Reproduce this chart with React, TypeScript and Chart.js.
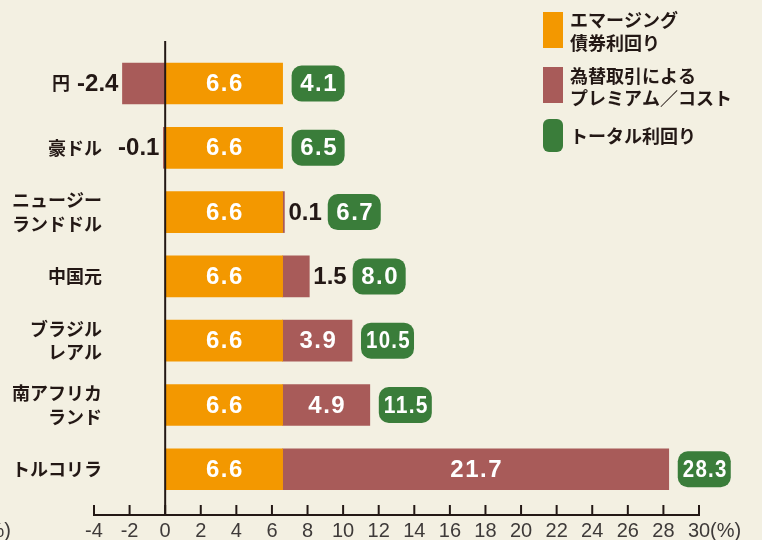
import React, { useEffect, useRef } from 'react';
import { Chart, registerables } from 'chart.js';

Chart.register(...registerables);

// ---- data ----
const categories: string[][] = [
  ['円'],
  ['豪ドル'],
  ['ニュージー', 'ランドドル'],
  ['中国元'],
  ['ブラジル', 'レアル'],
  ['南アフリカ', 'ランド'],
  ['トルコリラ'],
];
const emergingYield = [6.6, 6.6, 6.6, 6.6, 6.6, 6.6, 6.6];
const fxPremium = [-2.4, -0.1, 0.1, 1.5, 3.9, 4.9, 21.7];
const totalYield = [4.1, 6.5, 6.7, 8.0, 10.5, 11.5, 28.3];
const xTickValues = [-4, -2, 0, 2, 4, 6, 8, 10, 12, 14, 16, 18, 20, 22, 24, 26, 28, 30];
const legendLabels = [
  ['エマージング', '債券利回り'],
  ['為替取引による', 'プレミアム／コスト'],
  ['トータル利回り'],
];

// ---- styles ----
const BG = '#f3f0e2';
const ORANGE = '#f39800';
const MAROON = '#a85b59';
const GREEN = '#3a7d3a';
const DARK = '#231815';
const NUM_FONT = "bold 24px 'Liberation Sans', Arial, sans-serif";
const JP_FONT = "bold 18px 'Noto Sans CJK JP', sans-serif";
const LEG_FONT = "bold 18px 'Noto Sans CJK JP', sans-serif";
const TICK_FONT = "20px 'Liberation Sans', Arial, sans-serif";

const drawPlugin = {
  id: 'customDraw',
  beforeDraw(chart: any) {
    const ctx = chart.ctx;
    ctx.save();
    ctx.fillStyle = BG;
    ctx.fillRect(0, 0, chart.width, chart.height);
    ctx.restore();
  },
  afterDatasetsDraw(chart: any) {
    const ctx: CanvasRenderingContext2D = chart.ctx;
    const xs = chart.scales.x;
    const ys = chart.scales.y;
    const area = chart.chartArea;
    const axisY = area.bottom;
    ctx.save();

    // zero line
    const x0 = xs.getPixelForValue(0);
    ctx.strokeStyle = DARK;
    ctx.lineWidth = 2;
    ctx.beginPath();
    ctx.moveTo(x0, area.top);
    ctx.lineTo(x0, axisY);
    ctx.stroke();

    // x axis line + ticks (upward)
    ctx.beginPath();
    ctx.moveTo(xs.getPixelForValue(xTickValues[0]) - 1, axisY);
    ctx.lineTo(xs.getPixelForValue(xTickValues[xTickValues.length - 1]) + 1, axisY);
    ctx.stroke();
    xTickValues.forEach((v) => {
      const px = xs.getPixelForValue(v);
      ctx.beginPath();
      ctx.moveTo(px, axisY);
      ctx.lineTo(px, axisY - 10);
      ctx.stroke();
    });

    // tick labels
    ctx.font = TICK_FONT;
    ctx.fillStyle = '#3e3a39';
    ctx.textBaseline = 'middle';
    const tickLabelY = axisY + 16;
    xTickValues.forEach((v, idx) => {
      const px = xs.getPixelForValue(v);
      const t = String(v);
      ctx.textAlign = 'center';
      ctx.fillText(t, px, tickLabelY);
      if (idx === xTickValues.length - 1) {
        const w = ctx.measureText(t).width;
        ctx.textAlign = 'left';
        ctx.fillText('(%)', px + w / 2, tickLabelY);
      }
    });
    ctx.textAlign = 'right';
    ctx.fillText('(%)', 11, tickLabelY);

    // bar value labels, totals, category labels
    categories.forEach((cat, i) => {
      const cy = ys.getPixelForValue(i);
      ctx.textBaseline = 'middle';
      ctx.font = NUM_FONT;

      // emerging label
      const e = emergingYield[i];
      const ex0 = xs.getPixelForValue(0);
      const ex1 = xs.getPixelForValue(e);
      ctx.fillStyle = '#ffffff';
      ctx.textAlign = 'center';
      (ctx as any).letterSpacing = '1.5px';
      ctx.fillText(e.toFixed(1), (ex0 + ex1) / 2 + 1, cy + 1);

      // fx label
      const v = fxPremium[i];
      const start = v >= 0 ? e : 0;
      const end = start + v;
      const ps = xs.getPixelForValue(start);
      const pe = xs.getPixelForValue(end);
      const t = v.toFixed(1);
      const wIn = ctx.measureText(t).width;
      let labelLeft = Infinity;
      let labelRight = -Infinity;
      if (Math.abs(pe - ps) > wIn + 12) {
        ctx.fillStyle = '#ffffff';
        ctx.textAlign = 'center';
        ctx.fillText(t, (ps + pe) / 2 + 1, cy + 1);
      } else {
        (ctx as any).letterSpacing = '0px';
        const w = ctx.measureText(t).width;
        ctx.fillStyle = DARK;
        if (v < 0) {
          ctx.textAlign = 'right';
          ctx.fillText(t, pe - 4, cy + 1);
          labelLeft = pe - 4 - w;
        } else {
          ctx.textAlign = 'left';
          ctx.fillText(t, pe + 4, cy + 1);
          labelRight = pe + 4 + w;
        }
      }

      // total box
      const barEndPx = xs.getPixelForValue(e + Math.max(v, 0));
      const boxLeft = Math.max(barEndPx + 9, labelRight + 6);
      const boxW = 53;
      const boxH = 36;
      ctx.fillStyle = GREEN;
      ctx.beginPath();
      (ctx as any).roundRect(boxLeft, cy - boxH / 2, boxW, boxH, 10);
      ctx.fill();
      ctx.fillStyle = '#ffffff';
      ctx.textAlign = 'center';
      (ctx as any).letterSpacing = '1.5px';
      ctx.fillText(totalYield[i].toFixed(1), boxLeft + boxW / 2 + 1, cy + 1, 45);
      (ctx as any).letterSpacing = '0px';

      // category label
      ctx.font = JP_FONT;
      ctx.fillStyle = DARK;
      ctx.textAlign = 'right';
      const rx = Math.min(102, labelLeft - 7);
      const lh = 23.5;
      cat.forEach((line, k) => {
        const ly = cy + (k - (cat.length - 1) / 2) * lh;
        ctx.fillText(line, rx, ly);
      });
    });

    // legend
    const legColors = [ORANGE, MAROON, GREEN];
    const legTops = [12, 67, 119];
    const legHeights = [36, 36, 33];
    const legTextY = [[20.5, 43], [76, 98], [136]];
    legendLabels.forEach((lines, k) => {
      ctx.fillStyle = legColors[k];
      if (k === 2) {
        ctx.beginPath();
        (ctx as any).roundRect(543, legTops[k], 20, legHeights[k], 6);
        ctx.fill();
      } else {
        ctx.fillRect(543, legTops[k], 20, legHeights[k]);
      }
      ctx.font = LEG_FONT;
      ctx.fillStyle = DARK;
      ctx.textAlign = 'left';
      ctx.textBaseline = 'middle';
      lines.forEach((line, j) => {
        ctx.fillText(line, 570, legTextY[k][j]);
      });
    });

    ctx.restore();
  },
};

export default function App() {
  const ref = useRef<HTMLCanvasElement>(null);
  useEffect(() => {
    const canvas = ref.current!;
    const chart = new Chart(canvas, {
      type: 'bar',
      data: {
        datasets: [
          {
            label: 'エマージング債券利回り',
            data: emergingYield.map((v, i) => ({ x: v, y: i })),
            backgroundColor: ORANGE,
            borderWidth: 0,
            barThickness: 41,
          },
          {
            label: '為替取引によるプレミアム／コスト',
            data: fxPremium.map((v, i) => ({ x: v, y: i })),
            backgroundColor: MAROON,
            borderWidth: 0,
            barThickness: 41,
          },
        ],
      },
      options: {
        indexAxis: 'y',
        responsive: false,
        animation: false,
        layout: { padding: { left: 94, right: 63, top: 41, bottom: 25 } },
        scales: {
          x: { type: 'linear', min: -4, max: 30, stacked: true, display: false, offset: false, bounds: 'data' },
          y: {
            type: 'linear',
            min: -0.661,
            max: 6.711,
            reverse: true,
            stacked: true,
            display: false,
            offset: false,
            bounds: 'data',
            grace: 0,
          },
        },
        plugins: {
          legend: { display: false },
          tooltip: { enabled: false },
        },
      },
      plugins: [drawPlugin],
    } as any);
    return () => chart.destroy();
  }, []);
  return (
    <div style={{ position: 'absolute', left: 0, top: 0, width: 762, height: 540 }}>
      <canvas ref={ref} width={762} height={540} style={{ display: 'block' }} />
    </div>
  );
}
